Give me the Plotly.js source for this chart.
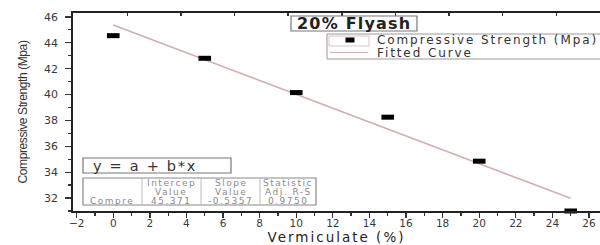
<!DOCTYPE html>
<html>
<head>
<meta charset="utf-8">
<script src="https://cdn.plot.ly/plotly-3.0.1.min.js"></script>
<style>html,body{margin:0;padding:0;background:#fff;}#chart{width:600px;height:245px;}</style>
</head>
<body>
<div id="chart"></div>
<script>
// Data
const vermiculite = [0, 5, 10, 15, 20, 25];
const strength = [44.55, 42.8, 40.15, 38.25, 34.85, 31.0];
const seriesName = "Compressive Strength (Mpa)";
const fitName = "Fitted Curve";
const fitIntercept = 45.371;
const fitSlope = -0.5357;
const fitAdjR2 = 0.9750;
const fitRange = [0, 25];
const xTickVals = [-2, 0, 2, 4, 6, 8, 10, 12, 14, 16, 18, 20, 22, 24, 26];
const yTickVals = [32, 34, 36, 38, 40, 42, 44, 46];
const tableHeader1 = ["", "Intercep", "Slope", "Statistic"];
const tableHeader2 = ["", "Value", "Value", "Adj. R-S"];
const tableRow = ["Compre", fitIntercept.toFixed(3), fitSlope.toFixed(4), fitAdjR2.toFixed(4)];

const W = 600, H = 245, L = 73, R = 0, T = 13, B = 34;
const pw = W - L - R, ph = H - T - B;
const px = x => (x - L) / pw;
const py = y => (H - B - y) / ph;
const sp = (t, ls) => '<span style="letter-spacing:' + ls + 'px">' + t + '</span>';

const fitY = fitRange.map(x => fitIntercept + fitSlope * x);

const traces = [
  {
    x: fitRange, y: fitY, type: 'scatter', mode: 'lines', name: fitName,
    line: {color: '#d0b0b0', width: 1.6}, showlegend: false, hoverinfo: 'skip'
  },
  {
    x: vermiculite, y: strength, type: 'scatter', mode: 'markers', name: seriesName,
    marker: {symbol: 'line-ew', size: 9, color: '#000', line: {color: '#000', width: 5}},
    cliponaxis: false, showlegend: false
  },
  {
    x: vermiculite, y: strength, xaxis: 'x2', type: 'scatter', mode: 'markers',
    marker: {opacity: 0}, showlegend: false, hoverinfo: 'skip'
  }
];

const tickFont = {family: 'DejaVu Sans, Arial, sans-serif', size: 11, color: '#3a3a3a'};
const xTickFont = {family: 'DejaVu Sans, Arial, sans-serif', size: 10.5, color: '#3a3a3a'};
const tblFont = {family: 'DejaVu Sans, Arial, sans-serif', size: 9, color: '#8a8a8a'};
const legFont = {family: 'DejaVu Sans, Arial, sans-serif', size: 12, color: '#333'};

const shapes = [
  // title box
  {type: 'rect', xref: 'paper', yref: 'paper', x0: px(291), x1: px(417), y0: py(31), y1: py(16), line: {color: '#777', width: 1.2}, fillcolor: '#fff'},
  // legend box
  {type: 'rect', xref: 'paper', yref: 'paper', x0: px(327), x1: px(640), y0: py(59), y1: py(34), line: {color: '#999', width: 1}, fillcolor: '#fff'},
  {type: 'rect', xref: 'paper', yref: 'paper', x0: px(329), x1: px(369), y0: py(46), y1: py(36), line: {color: '#d9c4c4', width: 1}, fillcolor: '#fff'},
  {type: 'rect', xref: 'paper', yref: 'paper', x0: px(345.5), x1: px(354.5), y0: py(42.5), y1: py(37.5), line: {width: 0}, fillcolor: '#000'},
  {type: 'line', xref: 'paper', yref: 'paper', x0: px(330), x1: px(368), y0: py(52.5), y1: py(52.5), line: {color: '#d0b0b0', width: 1.2}},
  // formula box
  {type: 'rect', xref: 'paper', yref: 'paper', x0: px(83), x1: px(231), y0: py(173), y1: py(158), line: {color: '#777', width: 1.2}, fillcolor: '#fff'},
  // table box
  {type: 'rect', xref: 'paper', yref: 'paper', x0: px(83), x1: px(316), y0: py(205), y1: py(178), line: {color: '#888', width: 1.2}, fillcolor: '#fff'},
  {type: 'line', xref: 'paper', yref: 'paper', x0: px(142), x1: px(142), y0: py(205), y1: py(178), line: {color: '#bbb', width: 1}},
  {type: 'line', xref: 'paper', yref: 'paper', x0: px(201), x1: px(201), y0: py(205), y1: py(178), line: {color: '#bbb', width: 1}},
  {type: 'line', xref: 'paper', yref: 'paper', x0: px(260), x1: px(260), y0: py(205), y1: py(178), line: {color: '#bbb', width: 1}}
];

const annotations = [
  {text: sp('20% Flyash', 1.2), xref: 'paper', yref: 'paper', x: px(354), y: py(23.5), showarrow: false, xanchor: 'center', yanchor: 'middle',
   font: {family: 'DejaVu Sans, Arial, sans-serif', size: 16, color: '#222', weight: 'bold'}},
  {text: sp(seriesName, 1.9), xref: 'paper', yref: 'paper', x: px(375), y: py(40), showarrow: false, xanchor: 'left', yanchor: 'middle', font: legFont},
  {text: sp(fitName, 1.9), xref: 'paper', yref: 'paper', x: px(375), y: py(53), showarrow: false, xanchor: 'left', yanchor: 'middle', font: legFont},
  {text: sp('y = a + b*x', 1.7), xref: 'paper', yref: 'paper', x: px(91), y: py(165.5), showarrow: false, xanchor: 'left', yanchor: 'middle',
   font: {family: 'DejaVu Sans, Arial, sans-serif', size: 14.5, color: '#333'}}
];
const colCenters = [112, 171, 230.5, 288];
const rowYs = [182.5, 191.5, 200.5];
[tableHeader1, tableHeader2, tableRow].forEach((row, ri) => {
  row.forEach((t, ci) => {
    if (!t) return;
    annotations.push({text: sp(t, 1.5), xref: 'paper', yref: 'paper', x: px(colCenters[ci]), y: py(rowYs[ri]), showarrow: false,
      xanchor: 'center', yanchor: 'middle', font: tblFont});
  });
});

const layout = {
  width: W, height: H,
  margin: {l: L, r: R, t: T, b: B, autoexpand: false},
  paper_bgcolor: '#fff', plot_bgcolor: '#fff',
  showlegend: false,
  xaxis: {
    range: [-2.2, 26.6], tickvals: xTickVals, ticks: 'outside', ticklen: 5, tickwidth: 1.3, tickcolor: '#333',
    showline: true, linecolor: '#222', linewidth: 1.8, mirror: true, showgrid: false, zeroline: false,
    tickfont: xTickFont, ticklabelstandoff: -3,
    minor: {dtick: 1, tick0: 0, ticks: 'outside', ticklen: 3, tickcolor: '#333', showgrid: false},
    title: {text: sp('Vermiculate (%)', 2), standoff: 3, font: {family: 'DejaVu Sans, Arial, sans-serif', size: 13.5, color: '#222'}}
  },
  xaxis2: {
    overlaying: 'x', side: 'top', anchor: 'y', range: [-2.2, 26.6], tick0: 0.77, dtick: 2.93,
    ticks: 'inside', ticklen: 3, tickwidth: 1.5, tickcolor: '#333', showticklabels: false,
    showline: false, showgrid: false, zeroline: false
  },
  yaxis: {
    range: [31.0, 46.3], tickvals: yTickVals, ticks: 'outside', ticklen: 6, tickwidth: 1.3, tickcolor: '#333',
    showline: true, linecolor: '#222', linewidth: 1.8, mirror: true, showgrid: false, zeroline: false,
    tickfont: tickFont, ticklabelstandoff: 5,
    minor: {dtick: 1, tick0: 0, ticks: 'outside', ticklen: 3, tickcolor: '#333', showgrid: false},
    title: {text: sp('Compressive Strength (Mpa)', -0.4), standoff: 14, font: {family: 'Liberation Sans Narrow, Arial Narrow, Liberation Sans, sans-serif', size: 12, color: '#333'}}
  },
  shapes: shapes,
  annotations: annotations
};

Plotly.newPlot('chart', traces, layout, {displayModeBar: false, staticPlot: true});
</script>
</body>
</html>
